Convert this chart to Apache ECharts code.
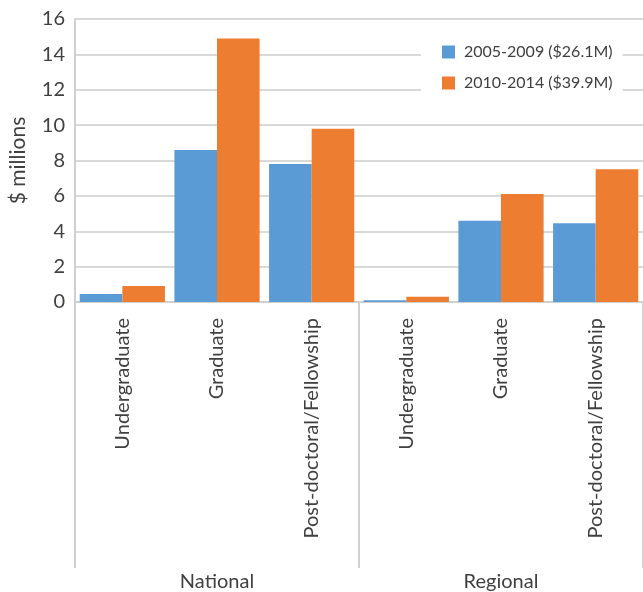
<!DOCTYPE html>
<html><head><meta charset="utf-8">
<script src="https://cdn.jsdelivr.net/npm/echarts@6/dist/echarts.min.js"></script>
<style>html,body{margin:0;padding:0;background:#fff}#c{width:643px;height:592px}</style>
</head><body><div id="c"></div>
<script>
const categories = ['Undergraduate','Graduate','Post-doctoral/Fellowship','Undergraduate','Graduate','Post-doctoral/Fellowship'];
const groups = ['National','Regional'];
const series2005 = [0.45, 8.6, 7.8, 0.1, 4.6, 4.45];
const series2010 = [0.9, 14.9, 9.8, 0.3, 6.1, 7.5];
const seriesNames = ['2005-2009 ($26.1M)','2010-2014 ($39.9M)'];
const yTicks = {min:0, max:16, interval:2};

const txt = '#404040';
const font = 'Lato';
const chart = echarts.init(document.getElementById('c'));
chart.setOption({
  animation:false,
  textStyle:{fontFamily:font},
  grid:{left:75,right:0,top:19,bottom:290,containLabel:false,outerBoundsMode:'none'},
  legend:{
    orient:'vertical', left:421, top:22,
    backgroundColor:'#fff',
    padding:[22,10,26,21],
    itemGap:15, itemWidth:13, itemHeight:13,
    icon:'rect',
    textStyle:{fontFamily:font,fontSize:16,color:txt,padding:[0,0,0,4]},
    data:seriesNames
  },
  xAxis:[{
    type:'category', data:categories, position:'bottom',
    axisLine:{lineStyle:{color:'#d0d0d0',width:2}},
    axisTick:{show:false},
    axisLabel:{rotate:90,interval:0,fontSize:20,color:txt,margin:16,fontFamily:font}
  },{
    type:'category', data:groups, position:'bottom', offset:266,
    axisLine:{show:false},
    axisTick:{show:true,inside:true,length:266,lineStyle:{color:'#d0d0d0',width:2}},
    axisLabel:{fontSize:20,color:txt,margin:4,fontFamily:font}
  }],
  yAxis:{
    type:'value', min:yTicks.min, max:yTicks.max, interval:yTicks.interval,
    name:'$ millions', nameLocation:'middle', nameRotate:90, nameGap:46,
    nameTextStyle:{fontSize:21,color:txt,fontFamily:font},
    axisLine:{show:true,lineStyle:{color:'#d0d0d0',width:2}},
    axisTick:{show:false},
    axisLabel:{fontSize:20,color:txt,margin:10,fontFamily:font},
    splitLine:{lineStyle:{color:'#d9d9d9',width:2}}
  },
  series:[
    {name:seriesNames[0],type:'bar',data:series2005,xAxisIndex:0,barGap:'0%',barCategoryGap:'10%',itemStyle:{color:'#5B9BD5'}},
    {name:seriesNames[1],type:'bar',data:series2010,xAxisIndex:0,barGap:'0%',barCategoryGap:'10%',itemStyle:{color:'#ED7D31'}}
  ]
});
</script></body></html>
